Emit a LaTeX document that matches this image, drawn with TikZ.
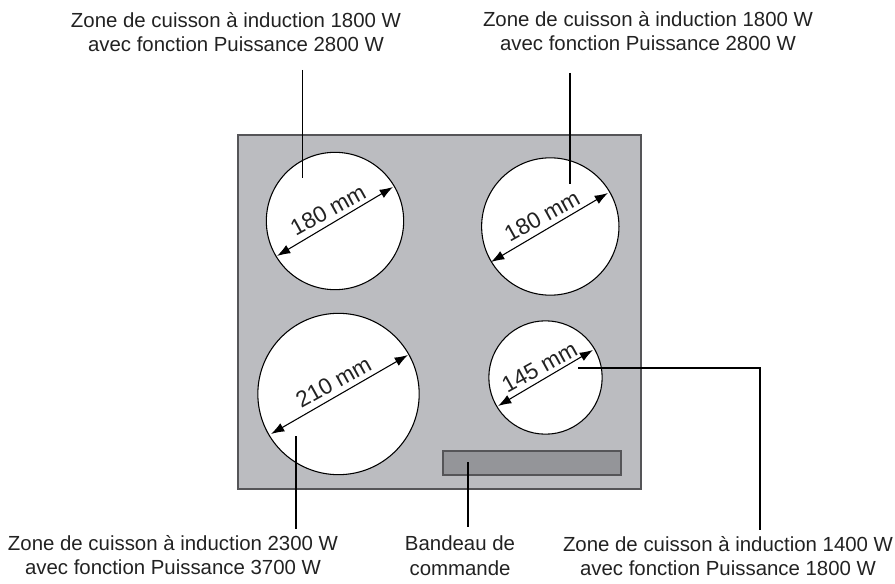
\documentclass[tikz,border=0pt]{standalone}
\usepackage{fontspec}
\setmainfont{Liberation Sans}
\usetikzlibrary{arrows.meta}
\definecolor{plate}{HTML}{BBBCC0}
\definecolor{band}{HTML}{949599}
\definecolor{edge}{HTML}{555558}
\definecolor{ink}{HTML}{222222}
\tikzset{x=0.75pt,y=-0.75pt,
 zone/.style={circle,draw=black,line width=0.8pt,fill=white,inner sep=0pt},
 lead/.style={draw=black,line width=1.3pt},
 dimline/.style={draw=black,line width=0.8pt,{Latex[length=10pt,width=7pt]}-{Latex[length=10pt,width=7pt]}},
 captext/.style={text=ink,font=\fontsize{15.3pt}{18.6pt}\selectfont,align=center,inner sep=0pt},
 dimtext/.style={text=ink,font=\fontsize{17pt}{20pt}\selectfont,inner sep=0pt}}
\begin{document}
\begin{tikzpicture}
\useasboundingbox (0,0) rectangle (895,584);
\node[draw=edge,line width=0.9pt,fill=plate,minimum width=302.25pt,minimum height=265.5pt,inner sep=0pt] (hob) at (439.5,312) {};
\node[zone,minimum size=103pt] (z1) at (335,221) {};
\node[zone,minimum size=103pt] (z2) at (550.3,226.5) {};
\node[zone,minimum size=121pt] (z3) at (338.5,394) {};
\node[zone,minimum size=85pt] (z4) at (545.5,377.5) {};
\node[draw=edge,line width=0.9pt,fill=band,minimum width=133.5pt,minimum height=18pt,inner sep=0pt] (bd) at (532,463) {};
\coordinate (a1) at (393,187); \coordinate (b1) at (277,256);
\coordinate (a2) at (608,193); \coordinate (b2) at (491,262);
\coordinate (a3) at (408,355); \coordinate (b3) at (271,434);
\coordinate (a4) at (593,350); \coordinate (b4) at (498,406);
\draw[dimline] (b1) -- (a1);
\draw[dimline] (b2) -- (a2);
\draw[dimline] (b3) -- (a3);
\draw[dimline] (b4) -- (a4);
\node[dimtext,rotate=29] (d1) at (328,210) {180 mm};
\node[dimtext,rotate=29] (d2) at (542,216) {180 mm};
\node[dimtext,rotate=29] (d3) at (333.5,382) {210 mm};
\node[dimtext,rotate=29] (d4) at (539.5,367) {145 mm};
\node[captext] (t1) at (236,32) {Zone de cuisson à induction 1800 W\\avec fonction Puissance 2800 W};
\node[captext] (t2) at (648,31) {Zone de cuisson à induction 1800 W\\avec fonction Puissance 2800 W};
\node[captext] (t3) at (173,555) {Zone de cuisson à induction 2300 W\\avec fonction Puissance 3700 W};
\node[captext] (t4) at (460,556) {Bandeau de\\commande};
\node[captext] (t5) at (728,556) {Zone de cuisson à induction 1400 W\\avec fonction Puissance 1800 W};
\coordinate (l1) at (302.5,70); \coordinate (l1e) at (302.5,178);
\coordinate (l2) at (570,73); \coordinate (l2e) at (570,184);
\coordinate (l3) at (296,436); \coordinate (l3e) at (296,529);
\coordinate (l4) at (468,462); \coordinate (l4e) at (468,527);
\coordinate (l5) at (578,368); \coordinate (l5m) at (760,368); \coordinate (l5e) at (760,530);
\draw[lead] (l1) -- (l1e);
\draw[lead] (l2) -- (l2e);
\draw[lead] (l3) -- (l3e);
\draw[lead] (l4) -- (l4e);
\draw[lead] (l5) -- (l5m) -- (l5e);
\end{tikzpicture}
\end{document}
